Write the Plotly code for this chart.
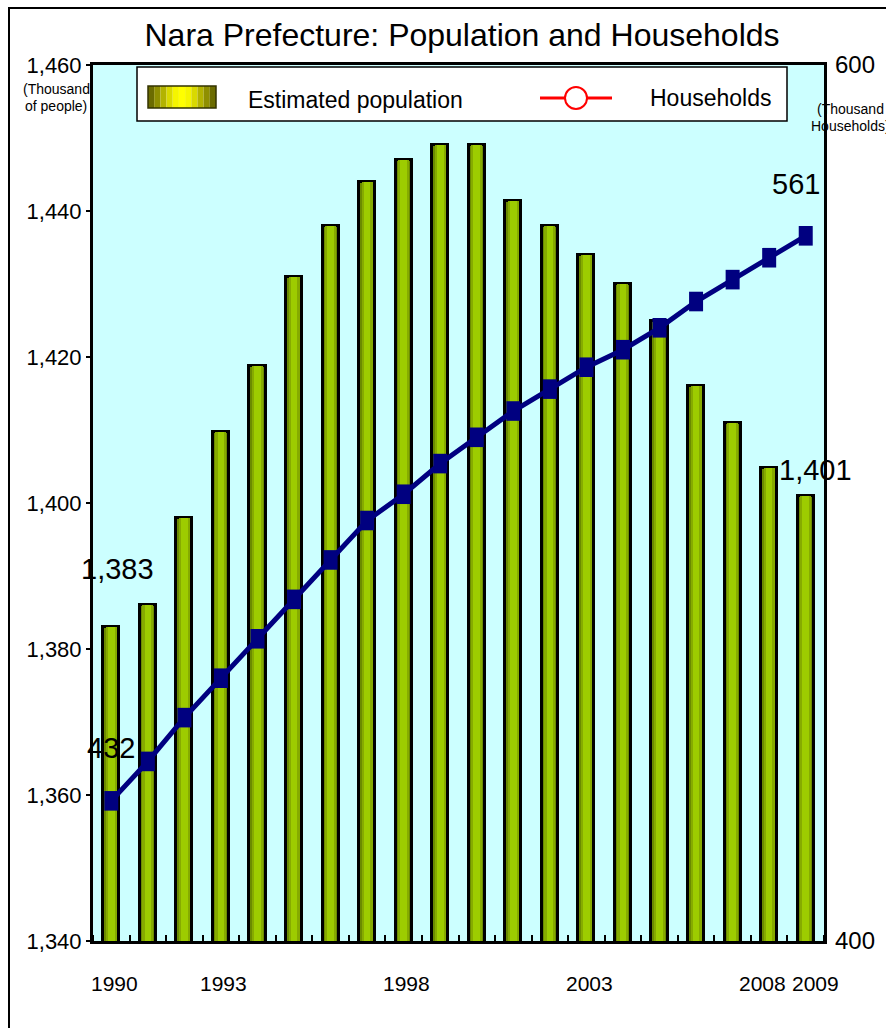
import plotly.graph_objects as go

# Nara Prefecture, 1990-2009
years = list(range(1990, 2010))
population = [1383, 1386, 1398, 1409.7, 1418.8, 1431, 1438, 1444, 1447, 1449,
              1449, 1441.4, 1438, 1434, 1430, 1425, 1416, 1411, 1404.8, 1401]   # thousand people
households = [432, 441, 451, 460, 469, 478, 487, 496, 502, 509,
              515, 521, 526, 531, 535, 540, 546, 551, 556, 561]                 # thousand households
year_ticks = [1990, 1993, 1998, 2003, 2008, 2009]
pop_ticks = [1340, 1360, 1380, 1400, 1420, 1440, 1460]
hh_ticks = [400, 600]

FONT = "Arial, Liberation Sans, sans-serif"
W, H = 886, 1028
L, R, T, B = 93, 824, 65, 941   # plot area in pixels


def px(x):
    return (x - L) / (R - L)


def py(y):
    return (B - y) / (B - T)


fig = go.Figure()

# bars: layered widths give the shaded cylinder look
bar_layers = [
    (0.44, "#6b8b00", dict(color="black", width=3)),
    (0.30, "#86ab00", dict(width=0)),
    (0.18, "#9dcc00", dict(width=0)),
]
for w, c, ln in bar_layers:
    fig.add_trace(go.Bar(x=years, y=population, width=w, marker=dict(color=c, line=ln),
                         showlegend=False, hoverinfo="skip" if ln["width"] == 0 else None,
                         name="Estimated population"))

fig.add_trace(go.Scatter(x=years, y=households, yaxis="y2", mode="lines+markers",
                         line=dict(color="#000080", width=5),
                         marker=dict(symbol="line-ns", size=14, color="#000080",
                                     line=dict(color="#000080", width=14)),
                         showlegend=False, name="Households"))

shapes = []
# outer frame
shapes.append(dict(type="rect", xref="paper", yref="paper",
                   x0=px(9), x1=px(W + 20), y0=py(8), y1=py(H + 20),
                   line=dict(color="black", width=2), fillcolor="rgba(0,0,0,0)", layer="below"))
# legend box
shapes.append(dict(type="rect", xref="paper", yref="paper",
                   x0=px(137), x1=px(787), y0=py(67), y1=py(121),
                   line=dict(color="black", width=1.5), fillcolor="white", layer="above"))
# legend swatch: yellow shaded bar
sx0, sx1, sy0, sy1 = 148, 216, 86, 108
shade = ["#6b6b00", "#8f8f00", "#b3b300", "#d9d900", "#f5f500", "#ffff00",
         "#f5f500", "#d9d900", "#b3b300", "#8f8f00", "#6b6b00"]
n = len(shade)
for i, c in enumerate(shade):
    a = sx0 + (sx1 - sx0) * i / n
    b = sx0 + (sx1 - sx0) * (i + 1) / n
    shapes.append(dict(type="rect", xref="paper", yref="paper",
                       x0=px(a), x1=px(b), y0=py(sy0), y1=py(sy1),
                       line=dict(width=0), fillcolor=c, layer="above"))
shapes.append(dict(type="rect", xref="paper", yref="paper",
                   x0=px(sx0), x1=px(sx1), y0=py(sy0), y1=py(sy1),
                   line=dict(color="#333300", width=1.5), fillcolor="rgba(0,0,0,0)", layer="above"))
# legend line sample with open circle
shapes.append(dict(type="line", xref="paper", yref="paper",
                   x0=px(540), x1=px(612), y0=py(98), y1=py(98),
                   line=dict(color="red", width=3), layer="above"))
shapes.append(dict(type="circle", xref="paper", yref="paper",
                   x0=px(565), x1=px(587), y0=py(87), y1=py(109),
                   line=dict(color="red", width=2), fillcolor="white", layer="above"))

annotations = [
    dict(text="Estimated population", x=px(246), y=py(100), xanchor="left", yanchor="middle",
         font=dict(size=23)),
    dict(text="Households", x=px(648), y=py(98), xanchor="left", yanchor="middle",
         font=dict(size=23)),
    dict(text="(Thousand", x=px(56), y=py(89), xanchor="center", yanchor="middle",
         font=dict(size=14)),
    dict(text="of people)", x=px(56), y=py(106), xanchor="center", yanchor="middle",
         font=dict(size=14)),
    dict(text="(Thousand", x=px(850), y=py(109), xanchor="center", yanchor="middle",
         font=dict(size=14)),
    dict(text="Households)", x=px(850), y=py(126), xanchor="center", yanchor="middle",
         font=dict(size=14)),
]
for a in annotations:
    a.update(xref="paper", yref="paper", showarrow=False)

# year labels under the axis; the last two are nudged apart so they don't collide
year_nudge = {2008: -7, 2009: 10}
for yr in year_ticks:
    annotations.append(dict(text=str(yr), x=yr, xref="x", y=py(983), yref="paper",
                            xanchor="center", yanchor="middle", showarrow=False,
                            xshift=year_nudge.get(yr, 3), font=dict(size=21)))

# value call-outs at first and last year
labels = [
    dict(x=years[0], y=population[0], yref="y", text=f"{population[0]:,.0f}", xshift=6, yshift=40),
    dict(x=years[-1], y=population[-1], yref="y", text=f"{population[-1]:,.0f}", xshift=10, yshift=8),
    dict(x=years[0], y=households[0], yref="y2", text=f"{households[0]:,.0f}", xshift=0, yshift=35),
    dict(x=years[-1], y=households[-1], yref="y2", text=f"{households[-1]:,.0f}", xshift=-10, yshift=34),
]
for a in labels:
    a.update(xref="x", showarrow=False, yanchor="bottom", xanchor="center",
             font=dict(size=29, color="black"))
annotations += labels

fig.update_layout(
    width=W, height=H,
    margin=dict(l=L, r=W - R, t=T, b=H - B, autoexpand=False),
    paper_bgcolor="white", plot_bgcolor="#ccffff",
    font=dict(family=FONT, color="black"),
    barmode="overlay", bargap=0,
    title=dict(text="Nara Prefecture: Population and Households", x=px(462), xref="paper",
               xanchor="center", y=1 - 35 / H, yanchor="middle", font=dict(size=32)),
    xaxis=dict(range=[1989.5, 2009.5], showticklabels=False,
               ticks="", showgrid=False, zeroline=False, automargin=False,
               showline=True, linecolor="black", linewidth=3, mirror=True,
               minor=dict(tick0=1989.5, dtick=1, ticks="inside", ticklen=6,
                          tickwidth=2, tickcolor="black", showgrid=False)),
    yaxis=dict(range=[1340, 1460], tickvals=pop_ticks, tickformat=",",
               ticks="outside", ticklen=4, tickwidth=1.5, tickcolor="black",
               showgrid=False, zeroline=False, automargin=False,
               showline=True, linecolor="black", linewidth=3, mirror=True,
               tickfont=dict(size=22)),
    yaxis2=dict(range=[400, 600], tickvals=hh_ticks, overlaying="y", side="right",
                ticks="", showgrid=False, zeroline=False, showline=False, automargin=False,
                ticklabelstandoff=10, tickfont=dict(size=24)),
    shapes=shapes, annotations=annotations,
)

fig.write_html("out.html")
